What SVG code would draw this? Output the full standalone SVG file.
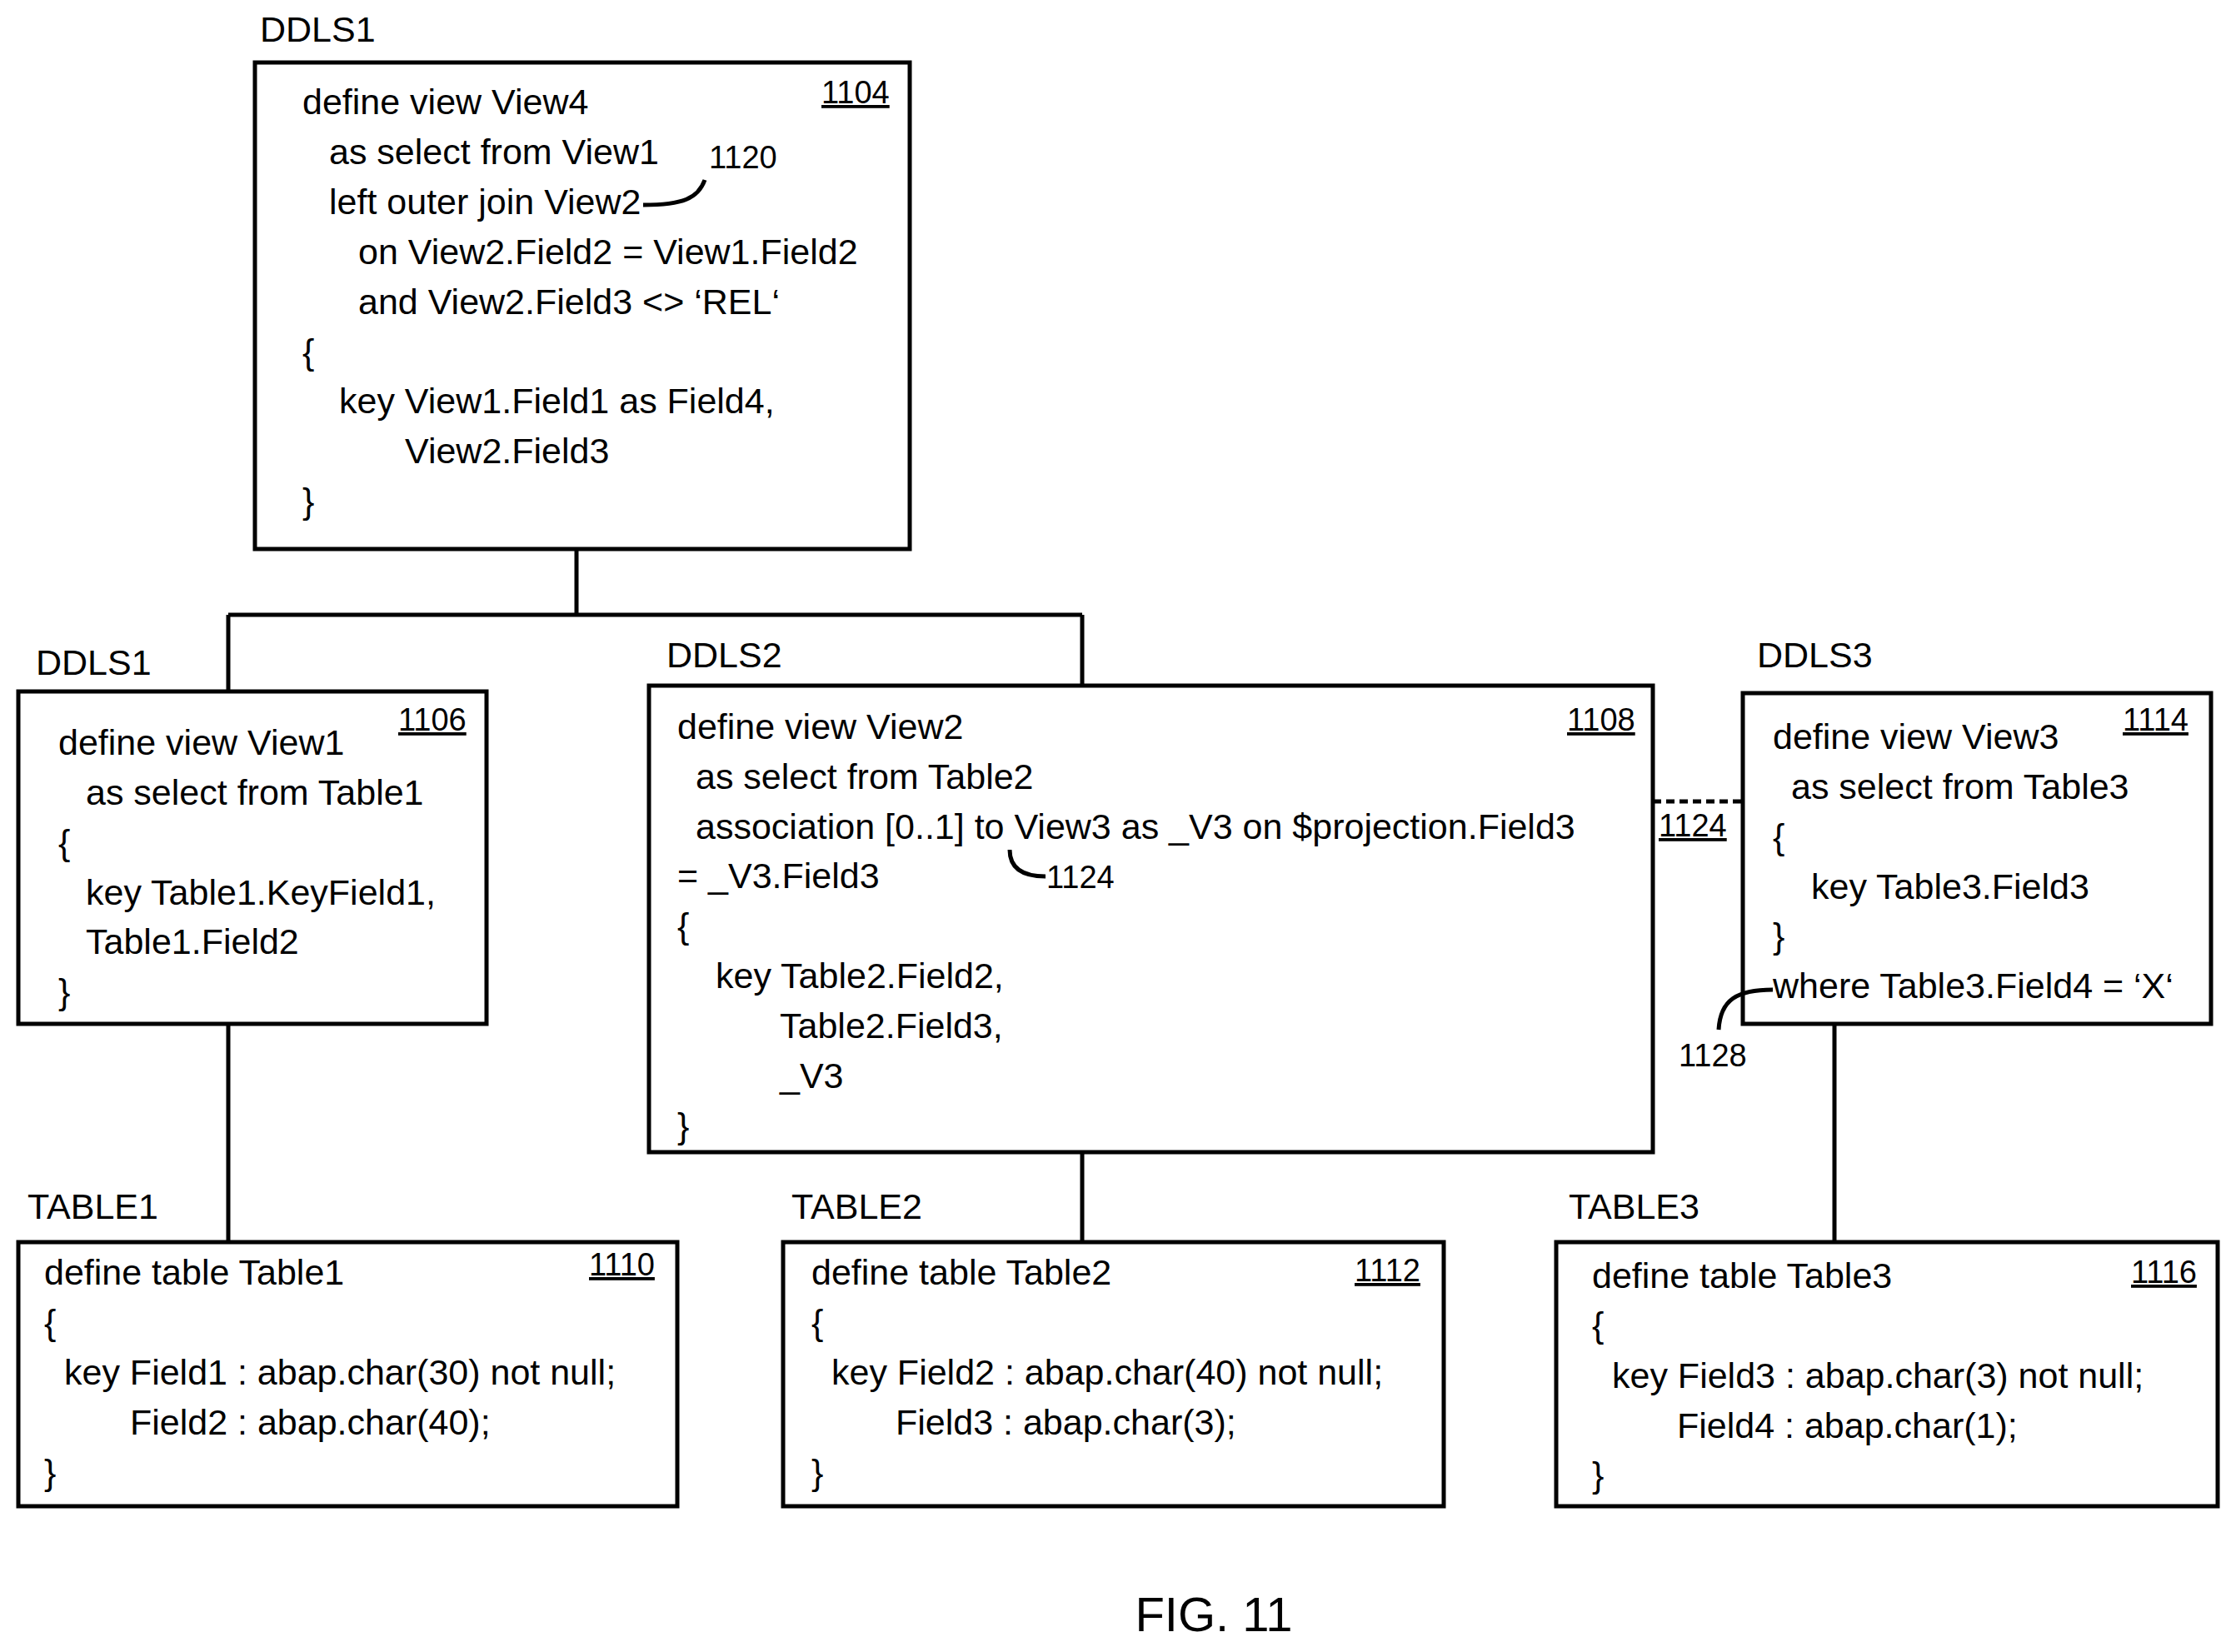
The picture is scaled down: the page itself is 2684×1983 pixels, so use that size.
<svg xmlns="http://www.w3.org/2000/svg" width="2684" height="1983" viewBox="0 0 2684 1983">
<style>
text{font-family:"Liberation Sans",Arial,sans-serif;fill:#000}
.t{font-size:43px}
.n{font-size:38px;text-decoration:underline}
.m{font-size:38px}
.b{fill:#fff;stroke:#000;stroke-width:5}
.c{fill:none;stroke:#000;stroke-width:5}
</style>
<rect width="2684" height="1983" fill="#fff"/>
<g id="connectors">
<path class="c" d="M692 659V738M274 738H1299M274 738V830M1299 738V823"/>
<path class="c" d="M274 1229V1491M1299 1383V1491M2202 1229V1491"/>
<path class="c" d="M1984 962H2092" stroke-dasharray="10 6"/>
</g>
<g id="n1104">
<text class="t" x="312" y="50">DDLS1</text>
<rect class="b" x="306" y="75" width="786" height="584"/>
<text class="n" x="986" y="124">1104</text>
<text class="t" x="363" y="137">define view View4</text>
<text class="t" x="395" y="197">as select from View1</text>
<text class="t" x="395" y="257">left outer join View2</text>
<text class="t" x="430" y="317">on   View2.Field2 = View1.Field2</text>
<text class="t" x="430" y="377">and View2.Field3 &lt;&gt; ‘REL‘</text>
<text class="t" x="363" y="437">{</text>
<text class="t" x="407" y="496">key View1.Field1 as Field4,</text>
<text class="t" x="486" y="556">View2.Field3</text>
<text class="t" x="363" y="616">}</text>
<path class="c" d="M772 246C820 246 838 238 846 216"/>
<text class="m" x="851" y="202">1120</text>
</g>
<g id="n1106">
<text class="t" x="43" y="810">DDLS1</text>
<rect class="b" x="22" y="830" width="562" height="399"/>
<text class="n" x="478" y="877">1106</text>
<text class="t" x="70" y="906">define view View1</text>
<text class="t" x="103" y="966">as select from Table1</text>
<text class="t" x="70" y="1026">{</text>
<text class="t" x="103" y="1086">key Table1.KeyField1,</text>
<text class="t" x="103" y="1145">Table1.Field2</text>
<text class="t" x="70" y="1205">}</text>
</g>
<g id="n1108">
<text class="t" x="800" y="801">DDLS2</text>
<rect class="b" x="779" y="823" width="1205" height="560"/>
<text class="n" x="1881" y="877">1108</text>
<text class="t" x="813" y="887">define view View2</text>
<text class="t" x="835" y="947">as select from Table2</text>
<text class="t" x="835" y="1007">association [0..1] to View3 as _V3 on $projection.Field3</text>
<text class="t" x="813" y="1066">= _V3.Field3</text>
<text class="t" x="813" y="1126">{</text>
<text class="t" x="859" y="1186">key Table2.Field2,</text>
<text class="t" x="936" y="1246">Table2.Field3,</text>
<text class="t" x="936" y="1306">_V3</text>
<text class="t" x="813" y="1366">}</text>
<path class="c" d="M1212 1020C1212 1040 1225 1052 1255 1052"/>
<text class="m" x="1256" y="1066">1124</text>
<text class="n" x="1991" y="1004">1124</text>
</g>
<g id="n1114">
<text class="t" x="2109" y="801">DDLS3</text>
<rect class="b" x="2092" y="832" width="562" height="397"/>
<text class="n" x="2548" y="877">1114</text>
<text class="t" x="2128" y="899">define view View3</text>
<text class="t" x="2150" y="959">as select from Table3</text>
<text class="t" x="2128" y="1019">{</text>
<text class="t" x="2174" y="1079">key Table3.Field3</text>
<text class="t" x="2128" y="1138">}</text>
<text class="t" x="2128" y="1198">where Table3.Field4 = ‘X‘</text>
<path class="c" d="M2128 1188C2085 1188 2065 1200 2063 1236"/>
<text class="m" x="2015" y="1280">1128</text>
</g>
<g id="n1110">
<text class="t" x="33" y="1463">TABLE1</text>
<rect class="b" x="22" y="1491" width="791" height="317"/>
<text class="n" x="707" y="1531">1110</text>
<text class="t" x="53" y="1542">define table Table1</text>
<text class="t" x="53" y="1602">{</text>
<text class="t" x="77" y="1662">key Field1 : abap.char(30) not null;</text>
<text class="t" x="156" y="1722">Field2 : abap.char(40);</text>
<text class="t" x="53" y="1782">}</text>
</g>
<g id="n1112">
<text class="t" x="950" y="1463">TABLE2</text>
<rect class="b" x="940" y="1491" width="793" height="317"/>
<text class="n" x="1626" y="1538">1112</text>
<text class="t" x="974" y="1542">define table Table2</text>
<text class="t" x="974" y="1602">{</text>
<text class="t" x="998" y="1662">key Field2 : abap.char(40) not null;</text>
<text class="t" x="1075" y="1722">Field3 : abap.char(3);</text>
<text class="t" x="974" y="1782">}</text>
</g>
<g id="n1116">
<text class="t" x="1883" y="1463">TABLE3</text>
<rect class="b" x="1868" y="1491" width="794" height="317"/>
<text class="n" x="2558" y="1540">1116</text>
<text class="t" x="1911" y="1546">define table Table3</text>
<text class="t" x="1911" y="1605">{</text>
<text class="t" x="1935" y="1666">key Field3 : abap.char(3) not null;</text>
<text class="t" x="2013" y="1726">Field4 : abap.char(1);</text>
<text class="t" x="1911" y="1785">}</text>
</g>
<text x="1457" y="1958" font-size="58" text-anchor="middle">FIG. 11</text>
</svg>
